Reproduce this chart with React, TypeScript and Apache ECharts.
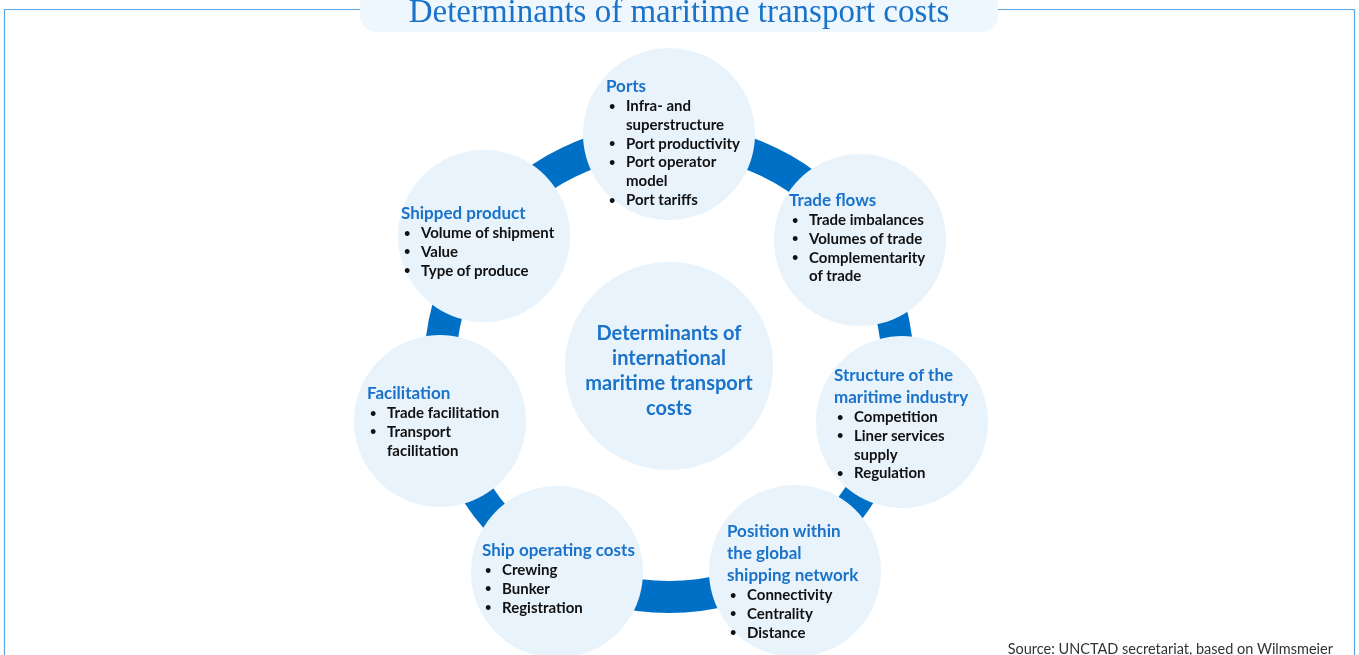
import React, { useEffect, useRef } from "react";
import * as echarts from "echarts";

const TITLE = "Determinants of maritime transport costs";
const SOURCE = "Source: UNCTAD secretariat, based on Wilmsmeier";
const CENTER_LINES = ["Determinants of", "international", "maritime transport", "costs"];

const NODE_NAMES = ["Ports", "Trade flows", "Structure", "Position", "Ship operating", "Facilitation", "Shipped product"];
const NODE_CX = [669, 860, 902, 795, 557, 440, 484];
const NODE_CY = [134, 240, 422, 571, 572, 421, 236];
const NODE_HEADINGS: string[][] = [
  ["Ports"],
  ["Trade flows"],
  ["Structure of the", "maritime industry"],
  ["Position within", "the global", "shipping network"],
  ["Ship operating costs"],
  ["Facilitation"],
  ["Shipped product"],
];
const NODE_BULLETS: string[][][] = [
  [["Infra- and", "superstructure"], ["Port productivity"], ["Port operator", "model"], ["Port tariffs"]],
  [["Trade imbalances"], ["Volumes of trade"], ["Complementarity", "of trade"]],
  [["Competition"], ["Liner services", "supply"], ["Regulation"]],
  [["Connectivity"], ["Centrality"], ["Distance"]],
  [["Crewing"], ["Bunker"], ["Registration"]],
  [["Trade facilitation"], ["Transport", "facilitation"]],
  [["Volume of shipment"], ["Value"], ["Type of produce"]],
];
const TEXT_X = [606, 789, 834, 727, 482, 367, 401];
const TEXT_Y = [85, 199, 374, 530, 549, 392, 212];

const FONT = "Lato, 'Open Sans', sans-serif";
const BLUE = "#1a73c8";
const RING = "#0070c6";
const BUBBLE = "#e8f3fc";

export default function App() {
  const ref = useRef<HTMLDivElement>(null);
  useEffect(() => {
    if (!ref.current) return;
    const chart = echarts.init(ref.current, null, { renderer: "svg" });
    const els: any[] = [];
    els.push({ type: "rect", shape: { x: 4.5, y: 9.5, width: 1350, height: 700 }, style: { fill: "#fff", stroke: "#5aa5e6", lineWidth: 1.2 } });
    els.push({ type: "rect", shape: { x: 360, y: -20, width: 638, height: 52, r: 16 }, style: { fill: "#eef6fe" } });
    els.push({ type: "text", x: 679, y: 11, style: { text: TITLE, fill: BLUE, font: "33px 'Liberation Serif', serif", align: "center", verticalAlign: "middle" } });
    els.push({ type: "ring", shape: { cx: 669, cy: 368, r: 245, r0: 213 }, style: { fill: RING } });
    NODE_NAMES.forEach((_, i) => {
      els.push({ type: "circle", shape: { cx: NODE_CX[i], cy: NODE_CY[i], r: 86 }, style: { fill: BUBBLE } });
    });
    els.push({ type: "circle", shape: { cx: 669, cy: 366, r: 104 }, style: { fill: BUBBLE } });
    CENTER_LINES.forEach((t, k) => {
      els.push({ type: "text", x: 669, y: 332 + k * 25, style: { text: t, fill: BLUE, font: `bold 20px ${FONT}`, align: "center", verticalAlign: "middle" } });
    });
    NODE_NAMES.forEach((_, i) => {
      let y = TEXT_Y[i];
      NODE_HEADINGS[i].forEach((h, k) => {
        els.push({ type: "text", x: TEXT_X[i], y, style: { text: h, fill: BLUE, font: `bold 17px ${FONT}`, verticalAlign: "middle" } });
        if (k < NODE_HEADINGS[i].length - 1) y += 22;
      });
      y += 20;
      NODE_BULLETS[i].forEach((b) => {
        els.push({ type: "text", x: TEXT_X[i] + 3, y, style: { text: "•", fill: "#111", font: `bold 11px ${FONT}`, verticalAlign: "middle" } });
        b.forEach((line) => {
          els.push({ type: "text", x: TEXT_X[i] + 20, y, style: { text: line, fill: "#111", font: `bold 15px ${FONT}`, verticalAlign: "middle" } });
          y += 18.8;
        });
      });
    });
    els.push({ type: "text", x: 1333, y: 648, style: { text: SOURCE, fill: "#333", font: `14.5px ${FONT}`, align: "right", verticalAlign: "middle" } });
    chart.setOption({ animation: false, graphic: { elements: els } });
    return () => chart.dispose();
  }, []);
  return <div ref={ref} style={{ position: "fixed", left: 0, top: 0, width: 1359, height: 655 }} />;
}
